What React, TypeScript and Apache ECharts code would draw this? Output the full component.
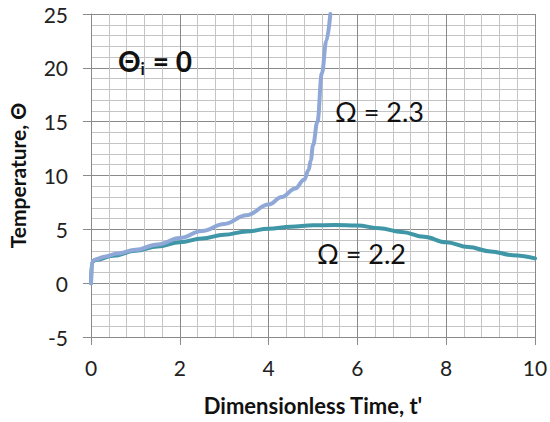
import React, { useEffect, useRef } from "react";
import * as echarts from "echarts";

const t23 = [0, 0.02, 0.1, 0.3, 0.6, 1.0, 1.5, 2.0, 2.5, 3.0, 3.5, 4.0, 4.3, 4.6, 4.8, 4.9, 4.95, 5.0, 5.1, 5.2, 5.3, 5.39];
const v23 = [0, 2.0, 2.2, 2.45, 2.75, 3.1, 3.6, 4.2, 4.85, 5.5, 6.3, 7.3, 8.0, 8.8, 9.6, 10.5, 11.4, 12.8, 15.0, 19.5, 22.5, 25];
const t22 = [0, 0.02, 0.1, 0.5, 1, 1.5, 2, 2.5, 3, 3.5, 4, 4.5, 5, 5.5, 6, 6.5, 7, 7.5, 8, 8.5, 9, 9.5, 10];
const v22 = [0, 1.95, 2.15, 2.55, 3.0, 3.4, 3.8, 4.15, 4.5, 4.8, 5.05, 5.25, 5.37, 5.4, 5.35, 5.1, 4.75, 4.3, 3.8, 3.35, 2.95, 2.6, 2.3];

const FONT = "Lato";
const MAJOR = "#8a8a8a";
const MINOR = "#c4c4c4";

export default function App() {
  const ref = useRef<HTMLDivElement>(null);
  useEffect(() => {
    if (!ref.current) return;
    const chart = echarts.init(ref.current, undefined, { renderer: "svg" });
    chart.setOption({
      animation: false,
      backgroundColor: "#ffffff",
      grid: { left: 91, right: 15, top: 14, bottom: 85, containLabel: false, outerBoundsMode: "none" },
      xAxis: {
        type: "value",
        min: 0,
        max: 10,
        interval: 2,
        name: "Dimensionless Time, t'",
        nameLocation: "middle",
        nameGap: 57,
        nameTextStyle: { fontFamily: FONT, fontWeight: "bold", fontSize: 22, color: "#111" },
        axisLine: { show: true, onZero: false, lineStyle: { color: MAJOR, width: 1 } },
        axisTick: { show: true, length: 8, lineStyle: { color: MAJOR } },
        axisLabel: { fontFamily: FONT, fontSize: 21, color: "#222", margin: 20 },
        splitLine: { show: true, lineStyle: { color: MAJOR, width: 1 } },
        minorTick: { show: false, splitNumber: 5 },
        minorSplitLine: { show: true, lineStyle: { color: MINOR, width: 1 } },
      },
      yAxis: {
        type: "value",
        min: -5,
        max: 25,
        interval: 5,
        name: "Temperature, Θ",
        nameLocation: "middle",
        nameGap: 63,
        nameTextStyle: { fontFamily: FONT, fontWeight: "bold", fontSize: 21, color: "#111" },
        axisLine: { show: true, onZero: false, lineStyle: { color: MAJOR, width: 1 } },
        axisTick: { show: true, length: 8, lineStyle: { color: MAJOR } },
        axisLabel: { fontFamily: FONT, fontSize: 21, color: "#222", margin: 23 },
        splitLine: { show: true, lineStyle: { color: MAJOR, width: 1 } },
        minorTick: { show: false, splitNumber: 5 },
        minorSplitLine: { show: true, lineStyle: { color: MINOR, width: 1 } },
      },
      series: [
        {
          name: "Ω = 2.2",
          type: "line",
          z: 10,
          data: t22.map((t, i) => [t, v22[i]]),
          showSymbol: false,
          smooth: 0.4,
          smoothMonotone: "x",
          lineStyle: { color: "#3f96a6", width: 4, cap: "round", join: "round" },
        },
        {
          name: "Ω = 2.3",
          type: "line",
          z: 11,
          data: t23.map((t, i) => [t, v23[i]]),
          showSymbol: false,
          smooth: 0.4,
          smoothMonotone: "x",
          lineStyle: { color: "#8fa8d8", width: 4, cap: "round", join: "round" },
        },
      ],
      graphic: [
        {
          type: "text",
          z: 100,
          left: 118,
          top: 47,
          style: {
            text: "{b|Θ}{s|i}{b| = 0}",
            rich: {
              b: { fontFamily: FONT, fontWeight: "bold", fontSize: 28, fill: "#111" },
              s: { fontFamily: FONT, fontWeight: "bold", fontSize: 17, fill: "#111", padding: [15, 1, 0, 0] },
            },
          },
        },
        {
          type: "text",
          z: 100,
          left: 335,
          top: 98,
          style: { text: "Ω = 2.3", fontFamily: FONT, fontSize: 27, fill: "#111" },
        },
        {
          type: "text",
          z: 100,
          left: 317,
          top: 240,
          style: { text: "Ω = 2.2", fontFamily: FONT, fontSize: 27, fill: "#111" },
        },
      ],
    });
    return () => chart.dispose();
  }, []);
  return <div ref={ref} style={{ position: "fixed", left: 0, top: 0, width: 550, height: 422 }} />;
}
